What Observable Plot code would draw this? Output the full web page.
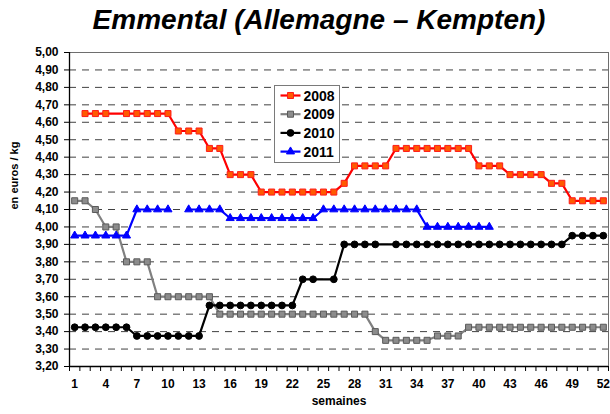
<!DOCTYPE html>
<html><head><meta charset="utf-8">
<script src="https://cdn.jsdelivr.net/npm/d3@7"></script>
<script src="https://cdn.jsdelivr.net/npm/@observablehq/plot@0.6"></script>
<style>
body{margin:0;background:#fff;font-family:"Liberation Sans",Arial,sans-serif;}
#title{height:42px;line-height:40px;text-align:center;font-family:"Liberation Sans",Arial,sans-serif;font-style:italic;font-weight:bold;font-size:28px;padding-left:28px;box-sizing:border-box;width:610px;white-space:nowrap;}
#chart svg{display:block;}
</style></head><body>
<div id="title">Emmental (Allemagne – Kempten)</div>
<div id="chart"></div>
<script>
const weeks = d3.range(1, 53);
const years = ["2008", "2009", "2010", "2011"];
const v2008 = [null,4.65,4.65,4.65,null,4.65,4.65,4.65,4.65,4.65,
  4.55,4.55,4.55,4.45,4.45,4.30,4.30,4.30,4.20,4.20,
  4.20,4.20,4.20,4.20,4.20,4.20,4.25,4.35,4.35,4.35,
  4.35,4.45,4.45,4.45,4.45,4.45,4.45,4.45,4.45,4.35,
  4.35,4.35,4.30,4.30,4.30,4.30,4.25,4.25,4.15,4.15,
  4.15,4.15];
const v2009 = [4.15,4.15,4.10,4.00,4.00,3.80,3.80,3.80,3.60,3.60,
  3.60,3.60,3.60,3.60,3.50,3.50,3.50,3.50,3.50,3.50,
  3.50,3.50,3.50,3.50,3.50,3.50,3.50,3.50,3.50,3.40,
  3.35,3.35,3.35,3.35,3.35,3.375,3.375,3.375,3.425,3.425,
  3.425,3.425,3.425,3.425,3.425,3.425,3.425,3.425,3.425,3.425,
  3.425,3.425];
const v2010 = [3.425,3.425,3.425,3.425,3.425,3.425,3.375,3.375,3.375,3.375,
  3.375,3.375,3.375,3.55,3.55,3.55,3.55,3.55,3.55,3.55,
  3.55,3.55,3.70,3.70,null,3.70,3.90,3.90,3.90,3.90,
  null,3.90,3.90,3.90,3.90,3.90,3.90,3.90,3.90,3.90,
  3.90,3.90,3.90,3.90,3.90,3.90,3.90,3.90,3.95,3.95,
  3.95,3.95];
const v2011 = [3.95,3.95,3.95,3.95,3.95,3.95,4.10,4.10,4.10,4.10,
  null,4.10,4.10,4.10,4.10,4.05,4.05,4.05,4.05,4.05,
  4.05,4.05,4.05,4.05,4.10,4.10,4.10,4.10,4.10,4.10,
  4.10,4.10,4.10,4.10,4.00,4.00,4.00,4.00,4.00,4.00,
  4.00,null,null,null,null,null,null,null,null,null,
  null,null];
const yTicks = d3.range(32, 51).map(d => d / 10);
const xLabelTicks = d3.range(1, 53, 3);
const seriesValues = [v2008, v2009, v2010, v2011];

const styles = {
  "2008": {stroke: "#ff0000", fill: "#ff5a00", mstroke: "#ff1a1a", symbol: "square", r: 3.4, connect: true},
  "2009": {stroke: "#808080", fill: "#8c8c8c", mstroke: "#5a5a5a", symbol: "square", r: 3.4, connect: true},
  "2010": {stroke: "#000000", fill: "#000000", mstroke: "#000000", symbol: "circle", r: 3.4, connect: true},
  "2011": {stroke: "#0000ff", fill: "#0000ff", mstroke: "#0000ff", symbol: "triangle", r: 3.0, connect: false}
};

const rows = years.flatMap((yr, i) => weeks.map((w, j) => ({week: w, year: yr, value: seriesValues[i][j]})));
const comma = d => d3.format(".2f")(d).replace(".", ",");

const marks = [
  Plot.ruleY(yTicks.filter(d => d > 3.2 && d < 5.0), {stroke: "#000", strokeOpacity: 0.75, strokeDasharray: "7,6", strokeWidth: 1}),
  Plot.ruleY([d3.max(yTicks)], {stroke: "#6e6e6e", strokeWidth: 1}),
  Plot.ruleX([weeks.length + 0.5], {stroke: "#6e6e6e", strokeWidth: 1}),
  Plot.axisY(yTicks, {tickSize: 5, tickPadding: 6, tickFormat: comma, label: null}),
  Plot.axisX(d3.range(0.5, weeks.length + 1, 1), {tickSize: 5, tickFormat: () => "", label: null}),
  Plot.axisX(xLabelTicks, {tickSize: 0, tickPadding: 13, tickFormat: d => String(d), label: null}),
  Plot.ruleX([0.5], {stroke: "#000", strokeWidth: 1.3}),
  Plot.ruleY([d3.min(yTicks)], {stroke: "#000", strokeWidth: 1.3})
];
for (const yr of years) {
  const s = styles[yr];
  const data = rows.filter(r => r.year === yr);
  const lineData = s.connect ? data.filter(r => r.value != null) : data;
  marks.push(Plot.line(lineData, {x: "week", y: "value", stroke: s.stroke, strokeWidth: 2.2}));
  marks.push(Plot.dot(data.filter(r => r.value != null), {x: "week", y: "value", symbol: s.symbol, r: s.r, fill: s.fill, stroke: s.mstroke, strokeWidth: 1}));
}
marks.push(Plot.text(["semaines"], {frameAnchor: "bottom", dy: 38, fontWeight: "bold", fontSize: 12}));
marks.push(Plot.text(["en euros / kg"], {frameAnchor: "left", dx: -55, rotate: -90, fontWeight: "bold", fontSize: 11}));

const chart = Plot.plot({
  width: 610,
  height: 372,
  marginLeft: 69,
  marginRight: 2,
  marginTop: 10,
  marginBottom: 48,
  x: {type: "linear", domain: [0.5, weeks.length + 0.5]},
  y: {domain: [d3.min(yTicks), d3.max(yTicks)]},
  style: {fontFamily: "'Liberation Sans', Arial, sans-serif", fontSize: "12px", fontWeight: "bold", color: "#000", background: "#fff"},
  marks
});
document.getElementById("chart").appendChild(chart);

// Legend (boxed, inside the plot area)
const svg = d3.select(chart);
const lg = svg.append("g").attr("transform", "translate(274.5,43.5)");
lg.append("rect").attr("width", 65).attr("height", 77).attr("fill", "#fff").attr("stroke", "#7a7a7a").attr("stroke-width", 1);
years.forEach((yr, i) => {
  const s = styles[yr];
  const cy = 10 + i * 18.7;
  const g = lg.append("g").attr("transform", `translate(0,${cy})`);
  g.append("line").attr("x1", 6).attr("x2", 26).attr("stroke", s.stroke).attr("stroke-width", 2.2);
  const sym = {square: d3.symbolSquare, circle: d3.symbolCircle, triangle: d3.symbolTriangle}[s.symbol];
  g.append("path").attr("transform", "translate(16,0)").attr("d", d3.symbol(sym, Math.PI * s.r * s.r)())
    .attr("fill", s.fill).attr("stroke", s.mstroke);
  g.append("text").attr("x", 29).attr("dy", "0.36em").attr("text-anchor", "start")
    .attr("font-size", 14).attr("font-weight", "bold").attr("fill", "#000").text(yr);
});
</script>
</body></html>
